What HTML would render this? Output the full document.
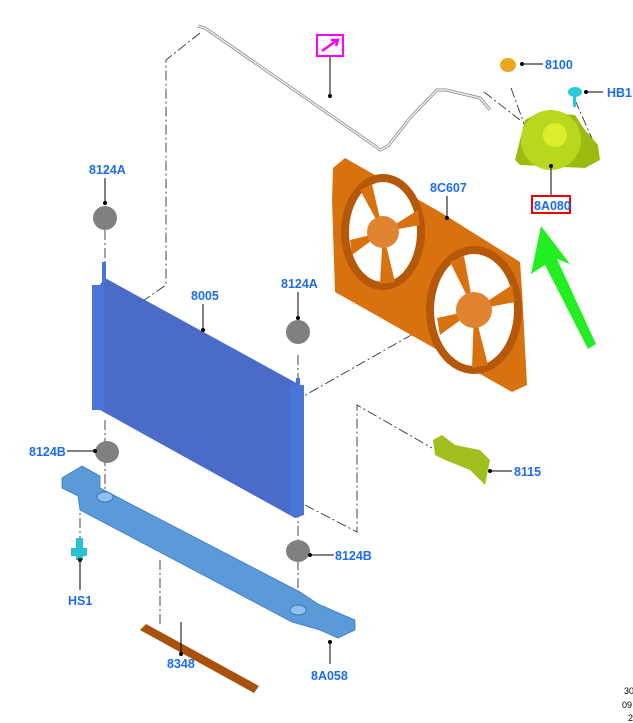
<!DOCTYPE html>
<html><head><meta charset="utf-8"><style>
html,body{margin:0;padding:0;background:#fff;width:633px;height:723px;overflow:hidden}
text{font-family:"Liberation Sans",sans-serif;font-weight:bold;font-size:12.5px;fill:#1c6cf0}
.d{stroke:#333;stroke-width:0.9;fill:none;stroke-dasharray:10,3,2,3}
.l{stroke:#000;stroke-width:1;fill:none}
</style></head><body>
<svg width="633" height="723" viewBox="0 0 633 723" xmlns="http://www.w3.org/2000/svg">
<!-- dash-dot lines -->
<path class="d" d="M200,33 L166,60 L166,285 L108,325"/>
<path class="d" d="M484,92 L520,120"/>
<path class="d" d="M511,88 L530,140"/>
<path class="d" d="M575,100 L597,150"/>
<path class="d" d="M105,230 L105,270"/>
<path class="d" d="M298,355 L298,380"/>
<path class="d" d="M200,455 L420,330"/>
<path class="d" d="M105,420 L105,500"/>
<path class="d" d="M80,500 L80,540"/>
<path class="d" d="M298,490 L298,540"/>
<path class="d" d="M298,560 L298,605"/>
<path class="d" d="M160,560 L160,625"/>
<path class="d" d="M305,505 L357,532 L357,405 L432,448"/>
<!-- pipe -->
<path d="M198,26 L205,28 L215,35 L375,146 L380,150 L388,146 L410,118 L437,90 L446,90 L480,98 L490,110" stroke="#888" stroke-width="3" fill="none"/>
<path d="M198,26 L205,28 L215,35 L375,146 L380,150 L388,146 L410,118 L437,90 L446,90 L480,98 L490,110" stroke="#eee" stroke-width="1.5" fill="none"/>
<!-- magenta icon -->
<rect x="317" y="35" width="26" height="21" fill="#fff" stroke="#f0f" stroke-width="2"/>
<path d="M322,51 L336,41 M331,40 L338,40 L336,46" stroke="#f0f" stroke-width="2.5" fill="none"/>
<path class="l" d="M330,56 L330,95"/><circle cx="330" cy="96" r="2"/>
<!-- fan shroud -->
<polygon points="333,168 345,158 440,212 520,262 522,290 527,385 512,392 335,292 332,200" fill="#d8720f"/>
<ellipse cx="383" cy="232" rx="42" ry="58" fill="#b5580a"/>
<ellipse cx="383" cy="232" rx="34" ry="50" fill="#fff"/>
<ellipse cx="474" cy="310" rx="48" ry="64" fill="#b5580a"/>
<ellipse cx="474" cy="310" rx="40" ry="56" fill="#fff"/>
<g fill="#d8720f">
<polygon points="383,232 360,190 372,184"/><polygon points="383,232 418,210 420,225"/><polygon points="383,232 395,282 380,284"/><polygon points="383,232 352,255 350,240"/>
<polygon points="474,310 450,262 464,256"/><polygon points="474,310 512,285 515,302"/><polygon points="474,310 488,365 472,368"/><polygon points="474,310 440,335 437,318"/>
</g>
<circle cx="383" cy="232" r="16" fill="#e08430"/><circle cx="474" cy="310" r="18" fill="#e08430"/>
<!-- radiator -->
<polygon points="96,290 105,278 300,385 304,515 295,518 100,410" fill="#4a6cc8"/>
<rect x="92" y="285" width="12" height="125" fill="#4a74d8"/>
<rect x="290" y="385" width="14" height="130" fill="#4a74d8"/>
<rect x="102" y="262" width="4" height="20" fill="#4a74d8"/>
<rect x="296" y="378" width="4" height="10" fill="#4a74d8"/>
<!-- bracket -->
<polygon points="62,478 82,466 100,476 100,488 300,592 318,604 355,620 355,630 338,638 320,630 292,622 80,510 78,496 62,488" fill="#5b9ad8" stroke="#3f78b8" stroke-width="0.8"/>
<ellipse cx="105" cy="497" rx="8" ry="5" fill="#8fc0ee" stroke="#3f78b8"/>
<ellipse cx="298" cy="610" rx="8" ry="5" fill="#8fc0ee" stroke="#3f78b8"/>
<!-- strip 8348 -->
<polygon points="140,630 146,624 259,686 254,693" fill="#a8510c"/>
<!-- grommets -->
<g fill="#808080"><ellipse cx="105" cy="218" rx="12" ry="12"/><ellipse cx="298" cy="332" rx="12" ry="12"/><ellipse cx="107" cy="452" rx="12" ry="11"/><ellipse cx="298" cy="551" rx="12" ry="11"/></g>
<!-- HS1 bolt -->
<rect x="76" y="538" width="7" height="22" fill="#2bbfcf"/><rect x="71" y="548" width="16" height="8" fill="#2bbfcf"/>
<!-- tank -->
<polygon points="515,160 525,120 540,112 575,115 585,130 598,145 600,160 585,168 520,165" fill="#9cbb10"/>
<circle cx="551" cy="140" r="30" fill="#b8d820"/><circle cx="555" cy="135" r="12" fill="#dcee2a"/>
<ellipse cx="508" cy="65" rx="8" ry="7" fill="#e7a81c"/>
<ellipse cx="575" cy="92" rx="7" ry="5" fill="#2bc8d8"/><rect x="573" y="95" width="3" height="12" fill="#2bc8d8"/>
<!-- 8115 -->
<polygon points="433,440 442,435 455,445 480,450 490,460 485,485 470,470 445,460 435,455" fill="#a0c020"/>
<!-- green arrow -->
<polygon points="588,349 596,344 557,259 570,264 541,226 531,274 545,265" fill="#22ee22"/>
<!-- leaders -->
<g class="l"><path d="M105,178 L105,203"/><path d="M203,304 L203,330"/><path d="M298,292 L298,318"/><path d="M447,196 L447,218"/><path d="M522,64 L543,64"/><path d="M586,92 L603,92"/><path d="M551,165 L551,196"/><path d="M490,471 L512,471"/><path d="M67,451 L95,451"/><path d="M310,555 L334,555"/><path d="M80,560 L80,590"/><path d="M181,622 L181,654"/><path d="M330,642 L330,664"/></g>
<g><circle cx="105" cy="203" r="2"/><circle cx="203" cy="330" r="2"/><circle cx="298" cy="318" r="2"/><circle cx="447" cy="218" r="2"/><circle cx="522" cy="64" r="2"/><circle cx="586" cy="92" r="2"/><circle cx="551" cy="166" r="2"/><circle cx="490" cy="471" r="2"/><circle cx="95" cy="451" r="2"/><circle cx="310" cy="555" r="2"/><circle cx="80" cy="560" r="2"/><circle cx="181" cy="654" r="2"/><circle cx="330" cy="642" r="2"/></g>
<!-- labels -->
<text x="89" y="174">8124A</text>
<text x="191" y="300">8005</text>
<text x="281" y="288">8124A</text>
<text x="430" y="192">8C607</text>
<text x="545" y="69">8100</text>
<text x="607" y="97">HB1</text>
<rect x="532" y="196" width="38" height="17" fill="none" stroke="#e00" stroke-width="2"/>
<text x="534" y="210">8A080</text>
<text x="514" y="476">8115</text>
<text x="29" y="456">8124B</text>
<text x="335" y="560">8124B</text>
<text x="68" y="605">HS1</text>
<text x="167" y="668">8348</text>
<text x="311" y="680">8A058</text>
<g style="font-weight:normal;font-size:9px"><text x="624" y="694" style="fill:#000;font-weight:normal;font-size:9px">30</text><text x="622" y="708" style="fill:#000;font-weight:normal;font-size:9px">09</text><text x="628" y="721" style="fill:#000;font-weight:normal;font-size:9px">2</text></g>
</svg>
</body></html>
